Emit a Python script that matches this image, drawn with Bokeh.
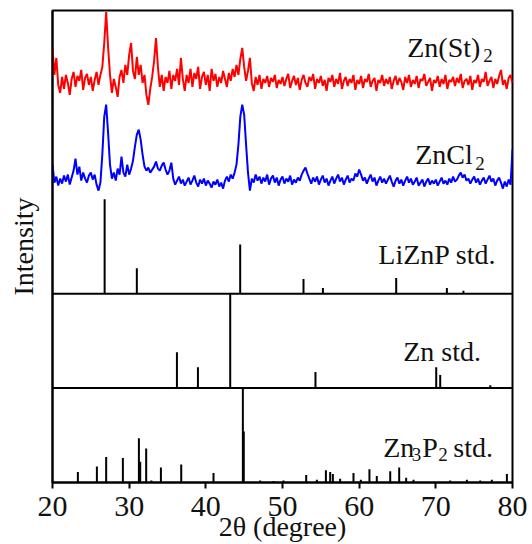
from bokeh.plotting import figure
from bokeh.models import Span, FixedTicker
from bokeh.core.properties import value
from bokeh.embed import file_html
from bokeh.resources import INLINE

# ---------------- data ----------------
two_theta = [20 + 0.25 * i for i in range(241)]

# Zn(St)2 measured pattern (arb. counts)
znst2 = [
    57, 30, 47, 20, 12, 28, 16, 30, 22, 10, 26, 33, 18, 29, 24, 35, 15, 27, 31, 20,
    28, 14, 25, 33, 20, 30, 38, 62, 93, 58, 30, 12, 26, 18, 8, 28, 35, 22, 40, 30,
    50, 62, 34, 26, 48, 30, 40, 22, 30, 10, 0, 16, 28, 44, 67, 38, 18, 30, 14, 28,
    22, 34, 16, 30, 24, 36, 20, 47, 26, 14, 30, 22, 36, 18, 32, 26, 38, 16, 28, 33,
    20, 30, 14, 36, 24, 31, 18, 28, 22, 34, 26, 18, 32, 24, 36, 28, 40, 30, 46, 57,
    38, 24, 34, 47, 22, 14, 28, 20, 30, 16, 26, 22, 29, 18, 27, 23, 30, 17, 25, 21,
    28, 19, 26, 31, 17, 24, 29, 20, 27, 15, 25, 30, 22, 18, 28, 24, 31, 16, 26, 22,
    29, 19, 25, 14, 27, 23, 30, 18, 26, 21, 32, 16, 24, 28, 19, 26, 22, 30, 15, 25,
    21, 29, 17, 26, 23, 31, 18, 24, 27, 14, 25, 22, 30, 19, 26, 21, 28, 16, 24, 29,
    20, 27, 23, 15, 28, 22, 30, 18, 25, 21, 29, 17, 26, 24, 31, 19, 23, 27, 14, 25,
    22, 29, 18, 26, 21, 30, 16, 25, 23, 28, 19, 27, 22, 31, 17, 24, 26, 20, 29, 15,
    25, 22, 30, 18, 26, 23, 33, 19, 24, 28, 17, 26, 21, 29, 35, 20, 25, 16, 27, 30,
    22,
]

# ZnCl2 measured pattern (arb. counts)
zncl2 = [
    30, 12, 18, 9, 16, 11, 19, 13, 20, 10, 17, 24, 36, 20, 28, 14, 22, 16, 12, 19,
    22, 15, 20, 10, 4, 12, 40, 78, 90, 62, 30, 16, 22, 14, 26, 20, 38, 22, 18, 30,
    20, 26, 34, 48, 60, 65, 55, 40, 28, 24, 27, 22, 25, 28, 33, 26, 24, 29, 32, 25,
    20, 24, 32, 16, 10, 14, 18, 11, 15, 9, 13, 17, 10, 14, 19, 12, 8, 15, 11, 16,
    9, 14, 11, 7, 13, 10, 15, 8, 12, 6, 14, 18, 13, 20, 16, 22, 30, 50, 78, 90,
    80, 50, 22, 4, 16, 12, 20, 14, 18, 11, 17, 13, 20, 10, 16, 19, 12, 17, 9, 15,
    18, 11, 16, 13, 19, 10, 15, 12, 17, 14, 20, 24, 27, 21, 16, 11, 17, 13, 18, 10,
    15, 19, 12, 16, 9, 14, 18, 11, 16, 20, 13, 17, 10, 15, 19, 12, 16, 14, 21, 18,
    25, 20, 14, 17, 11, 16, 20, 13, 17, 9, 14, 18, 12, 16, 11, 15, 19, 13, 8, 14,
    17, 11, 15, 9, 14, 18, 12, 16, 10, 13, 17, 9, 12, 15, 8, 13, 16, 10, 14, 11,
    15, 9, 13, 17, 11, 14, 10, 16, 12, 18, 13, 15, 19, 22, 17, 20, 14, 16, 11, 15,
    18, 12, 16, 10, 14, 17, 11, 15, 19, 13, 16, 9, 14, 17, 12, 6, 13, 8, 15, 10,
    45,
]

# Reference stick patterns (relative intensity, %)
liznp_pos = [26.8, 31.0, 44.48, 52.74, 55.27, 64.83, 71.44, 73.6]
liznp_int = [100, 27, 52, 15.5, 6, 16.5, 6, 3]

zn_pos = [36.23, 38.97, 43.18, 54.3, 70.05, 70.57, 77.1]
zn_int = [38, 22, 100, 17, 22, 14, 3]

zn3p2_pos = [23.31, 25.79, 27.0, 29.18, 31.27, 31.44, 32.22, 32.9, 34.14, 36.79,
             41.0, 44.83, 44.95, 47.09, 48.83, 50.13, 53.09, 54.48, 55.66, 56.22,
             56.57, 57.52, 59.26, 60.22, 61.34, 62.3, 64.05, 65.22, 66.13, 67.09,
             71.87, 74.05, 75.79, 77.3, 79.27]
zn3p2_int = [11, 17, 27, 26, 47, 22, 36, 2, 16, 19,
             10, 100, 54, 2, 1.5, 2, 8, 3, 13, 11,
             9, 4, 10, 3, 14, 7, 12, 16, 5, 3,
             2, 3, 2, 3, 9]

x_ticks = [20, 30, 40, 50, 60, 70, 80]

# ---------------- figure ----------------
FONT = value("Liberation Serif")
PX = 94.5  # counts per panel unit
TXT = "#111111"

p = figure(width=532, height=544, x_range=(20, 80), y_range=(0, 5),
           output_backend="svg", toolbar_location=None,
           min_border_left=52, min_border_right=20,
           min_border_top=10, min_border_bottom=61)
p.outline_line_color = "black"
p.outline_line_width = 2
p.xgrid.visible = False
p.ygrid.visible = False
p.background_fill_color = "white"
p.border_fill_color = "white"

# measured traces
p.line(two_theta, [4.0 + v / PX for v in znst2], line_color="#ff0000", line_width=2)
p.line(two_theta, [3.05 + v / PX for v in zncl2], line_color="#0000ff", line_width=2)

# stick patterns
def sticks(pos, inten, base):
    p.segment(x0=pos, x1=pos, y0=[base] * len(pos),
              y1=[base + v / 100.0 for v in inten],
              line_color="black", line_width=2)

sticks(liznp_pos, liznp_int, 2.0)
sticks(zn_pos, zn_int, 1.0)
sticks(zn3p2_pos, zn3p2_int, 0.0)

# panel separators
for loc in (1.0, 2.0):
    p.add_layout(Span(location=loc, dimension="width", line_color="black", line_width=2))

# labels
main_x = [66.27, 67.3, 62.5, 65.74, 63.13, 68.24, 72.27]
main_y = [4.603, 3.471, 2.413, 1.389, 0.370, 0.370, 0.370]
main_t = ["Zn(St)", "ZnCl", "LiZnP std.", "Zn std.", "Zn", "P", "std."]
p.text(x=main_x, y=main_y, text=main_t, text_font=FONT, text_font_size="28px",
       text_baseline="alphabetic", text_align="left", text_color=TXT)
sub_x = [76.17, 75.13, 66.87, 70.3]
sub_y = [4.525, 3.38, 0.295, 0.295]
sub_t = ["2", "2", "3", "2"]
p.text(x=sub_x, y=sub_y, text=sub_t, text_font=FONT, text_font_size="19px",
       text_baseline="alphabetic", text_align="left", text_color=TXT)

# axes
xa = p.xaxis[0]
xa.ticker = FixedTicker(ticks=x_ticks)
xa.major_tick_out = 6
xa.major_tick_in = 0
xa.minor_tick_out = 0
xa.minor_tick_in = 0
xa.axis_line_width = 2
xa.major_tick_line_width = 2
xa.major_label_text_font = "Liberation Serif"
xa.major_label_text_font_size = "30px"
xa.major_label_text_color = TXT
xa.major_label_standoff = 8
xa.axis_label = "2θ (degree)"
xa.axis_label_text_font = "Liberation Serif"
xa.axis_label_text_font_size = "28px"
xa.axis_label_text_font_style = "normal"
xa.axis_label_text_color = TXT
xa.axis_label_standoff = -8

ya = p.yaxis[0]
ya.ticker = FixedTicker(ticks=[])
ya.major_tick_out = 0
ya.major_tick_in = 0
ya.minor_tick_out = 0
ya.minor_tick_in = 0
ya.axis_line_width = 2
ya.major_label_text_font_size = "0px"
ya.axis_label = "Intensity"
ya.axis_label_text_font = "Liberation Serif"
ya.axis_label_text_font_size = "28px"
ya.axis_label_text_font_style = "normal"
ya.axis_label_text_color = TXT
ya.axis_label_standoff = 14

open("out.html", "w").write(file_html(p, INLINE))
